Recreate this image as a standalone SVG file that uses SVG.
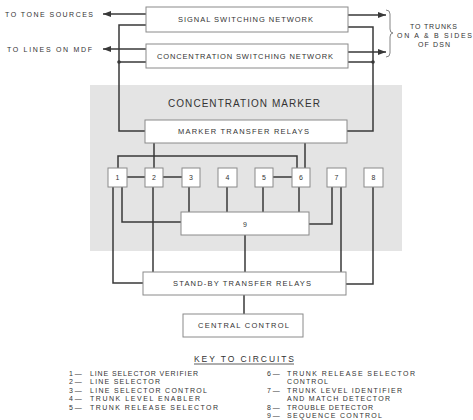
<svg xmlns="http://www.w3.org/2000/svg" width="473" height="420" viewBox="0 0 473 420">
<style>
text{font-family:"Liberation Sans","Arial",sans-serif;fill:#333;}
.lbl{font-size:7.5px;text-anchor:middle;}
.big{font-size:10px;text-anchor:middle;}
.sm{font-size:7px;}
.num{font-size:7px;text-anchor:middle;}
.box{fill:#fff;stroke:#8a8a8a;stroke-width:1;}
.ln{fill:none;stroke:#383838;stroke-width:1.5;}
.brace{fill:none;stroke:#777;stroke-width:0.9;}
</style>
<defs>
<marker id="arr" viewBox="0 0 8 6" refX="8" refY="3" markerWidth="8" markerHeight="6" orient="auto" markerUnits="userSpaceOnUse"><path d="M0,0 L8,3 L0,6 z" fill="#383838"/></marker>
</defs>
<rect x="0" y="0" width="473" height="420" fill="#fff"/>
<rect id="marker-area" x="90" y="85" width="312" height="166" fill="#e4e4e4"/>
<text class="big" x="244" y="106.6" textLength="152" lengthAdjust="spacing">CONCENTRATION MARKER</text>

<g id="connectors">
<path class="ln" d="M146,14 H103" marker-end="url(#arr)"/>
<path class="ln" d="M146,49 H103" marker-end="url(#arr)"/>
<path class="ln" d="M146,25 H119 V131 H145"/>
<path class="ln" d="M146,62 H119"/>
<circle cx="119" cy="62" r="1.8" fill="#383838"/>
<path class="ln" d="M348,15 H386" marker-end="url(#arr)"/>
<path class="ln" d="M348,52 H386" marker-end="url(#arr)"/>
<path class="ln" d="M348,27 H373 V131 H347"/>
<path class="ln" d="M348,62 H373"/>
<circle cx="373" cy="62" r="1.8" fill="#383838"/>
<path class="ln" d="M154,143 V168"/>
<path class="ln" d="M305,143 V168"/>
<path class="ln" d="M118,168 V156 H297 V168"/>
<path class="ln" d="M127,177 H145"/>
<path class="ln" d="M163,177 H182"/>
<path class="ln" d="M273,177 H292"/>
<path class="ln" d="M113,187 V283 H143"/>
<path class="ln" d="M122,187 V222 H181"/>
<path class="ln" d="M153,187 V272"/>
<path class="ln" d="M189,187 V212"/>
<path class="ln" d="M227,187 V212"/>
<path class="ln" d="M263,187 V212"/>
<path class="ln" d="M299,187 V212"/>
<path class="ln" d="M332,187 V224 H309"/>
<path class="ln" d="M341,187 V272"/>
<path class="ln" d="M373,187 V284 H346"/>
<path class="ln" d="M245,235 V272"/>
<path class="ln" d="M244,295 V314"/>
<path class="brace" d="M386,10 q4,0 4,4 v15 q0,4 3,4 q-3,0 -3,4 v16 q0,4 -4,4"/>
</g>

<g id="tone-sources"><text class="sm" x="5" y="16.5" textLength="88" lengthAdjust="spacing">TO TONE SOURCES</text></g>
<g id="lines-mdf"><text class="sm" x="7" y="51.5" textLength="85" lengthAdjust="spacing">TO LINES ON MDF</text></g>
<g id="trunks">
<text class="num" x="433.5" y="28.5" textLength="47" lengthAdjust="spacing">TO TRUNKS</text>
<text class="num" x="434.5" y="37.5" textLength="75" lengthAdjust="spacing">ON A &amp; B SIDES</text>
<text class="num" x="434" y="46.5" textLength="32" lengthAdjust="spacing">OF DSN</text>
</g>

<g id="signal-switching-network">
<rect class="box" x="146" y="7" width="202" height="25"/>
<text class="lbl" x="245.5" y="22.2" textLength="135" lengthAdjust="spacing">SIGNAL SWITCHING NETWORK</text>
</g>
<g id="concentration-switching-network">
<rect class="box" x="146" y="44" width="202" height="24"/>
<text class="lbl" x="245" y="58.7" textLength="176" lengthAdjust="spacing">CONCENTRATION SWITCHING NETWORK</text>
</g>
<g id="marker-transfer-relays">
<rect class="box" x="145" y="120" width="202" height="23"/>
<text class="lbl" x="243.5" y="134.2" textLength="131" lengthAdjust="spacing">MARKER TRANSFER RELAYS</text>
</g>
<g id="c1"><rect class="box" x="108" y="168" width="19" height="19"/><text class="num" x="117.5" y="180">1</text></g>
<g id="c2"><rect class="box" x="145" y="168" width="18" height="19"/><text class="num" x="154" y="180">2</text></g>
<g id="c3"><rect class="box" x="182" y="168" width="18" height="19"/><text class="num" x="191" y="180">3</text></g>
<g id="c4"><rect class="box" x="218" y="168" width="19" height="19"/><text class="num" x="227.5" y="180">4</text></g>
<g id="c5"><rect class="box" x="255" y="168" width="18" height="19"/><text class="num" x="264" y="180">5</text></g>
<g id="c6"><rect class="box" x="292" y="168" width="18" height="19"/><text class="num" x="301" y="180">6</text></g>
<g id="c7"><rect class="box" x="327" y="168" width="19" height="19"/><text class="num" x="336.5" y="180">7</text></g>
<g id="c8"><rect class="box" x="364" y="168" width="19" height="19"/><text class="num" x="373.5" y="180">8</text></g>
<g id="c9"><rect class="box" x="181" y="212" width="128" height="23"/><text class="num" x="245" y="226.5">9</text></g>
<g id="stand-by-transfer-relays">
<rect class="box" x="143" y="272" width="203" height="23"/>
<text class="lbl" x="242" y="286.2" textLength="138" lengthAdjust="spacing">STAND-BY TRANSFER RELAYS</text>
</g>
<g id="central-control">
<rect class="box" x="183" y="314" width="120" height="23"/>
<text class="lbl" x="243.5" y="328.2" textLength="91" lengthAdjust="spacing">CENTRAL CONTROL</text>
</g>

<g id="key">
<text x="244" y="362" style="font-size:8.5px;text-anchor:middle" textLength="100" lengthAdjust="spacing">KEY TO CIRCUITS</text>
<line x1="194" y1="364" x2="294" y2="364" stroke="#333" stroke-width="0.8"/>
<text class="sm" x="69" y="375.5">1 —</text>
<text class="sm" x="90" y="375.5" textLength="108" lengthAdjust="spacing">LINE SELECTOR VERIFIER</text>
<text class="sm" x="69" y="384">2 —</text>
<text class="sm" x="90" y="384" textLength="70" lengthAdjust="spacing">LINE SELECTOR</text>
<text class="sm" x="69" y="392.5">3 —</text>
<text class="sm" x="90" y="392.5" textLength="117" lengthAdjust="spacing">LINE SELECTOR CONTROL</text>
<text class="sm" x="69" y="401">4 —</text>
<text class="sm" x="90" y="401" textLength="110" lengthAdjust="spacing">TRUNK LEVEL ENABLER</text>
<text class="sm" x="69" y="409.5">5 —</text>
<text class="sm" x="90" y="409.5" textLength="128" lengthAdjust="spacing">TRUNK RELEASE SELECTOR</text>
<text class="sm" x="267" y="375.5">6 —</text>
<text class="sm" x="287" y="375.5" textLength="128" lengthAdjust="spacing">TRUNK RELEASE SELECTOR</text>
<text class="sm" x="287" y="384" textLength="41" lengthAdjust="spacing">CONTROL</text>
<text class="sm" x="267" y="392.5">7 —</text>
<text class="sm" x="287" y="392.5" textLength="115" lengthAdjust="spacing">TRUNK LEVEL IDENTIFIER</text>
<text class="sm" x="287" y="401" textLength="103" lengthAdjust="spacing">AND MATCH DETECTOR</text>
<text class="sm" x="267" y="409.5">8 —</text>
<text class="sm" x="287" y="409.5" textLength="86" lengthAdjust="spacing">TROUBLE DETECTOR</text>
<text class="sm" x="267" y="418">9 —</text>
<text class="sm" x="287" y="418" textLength="95" lengthAdjust="spacing">SEQUENCE CONTROL</text>
</g>
</svg>
